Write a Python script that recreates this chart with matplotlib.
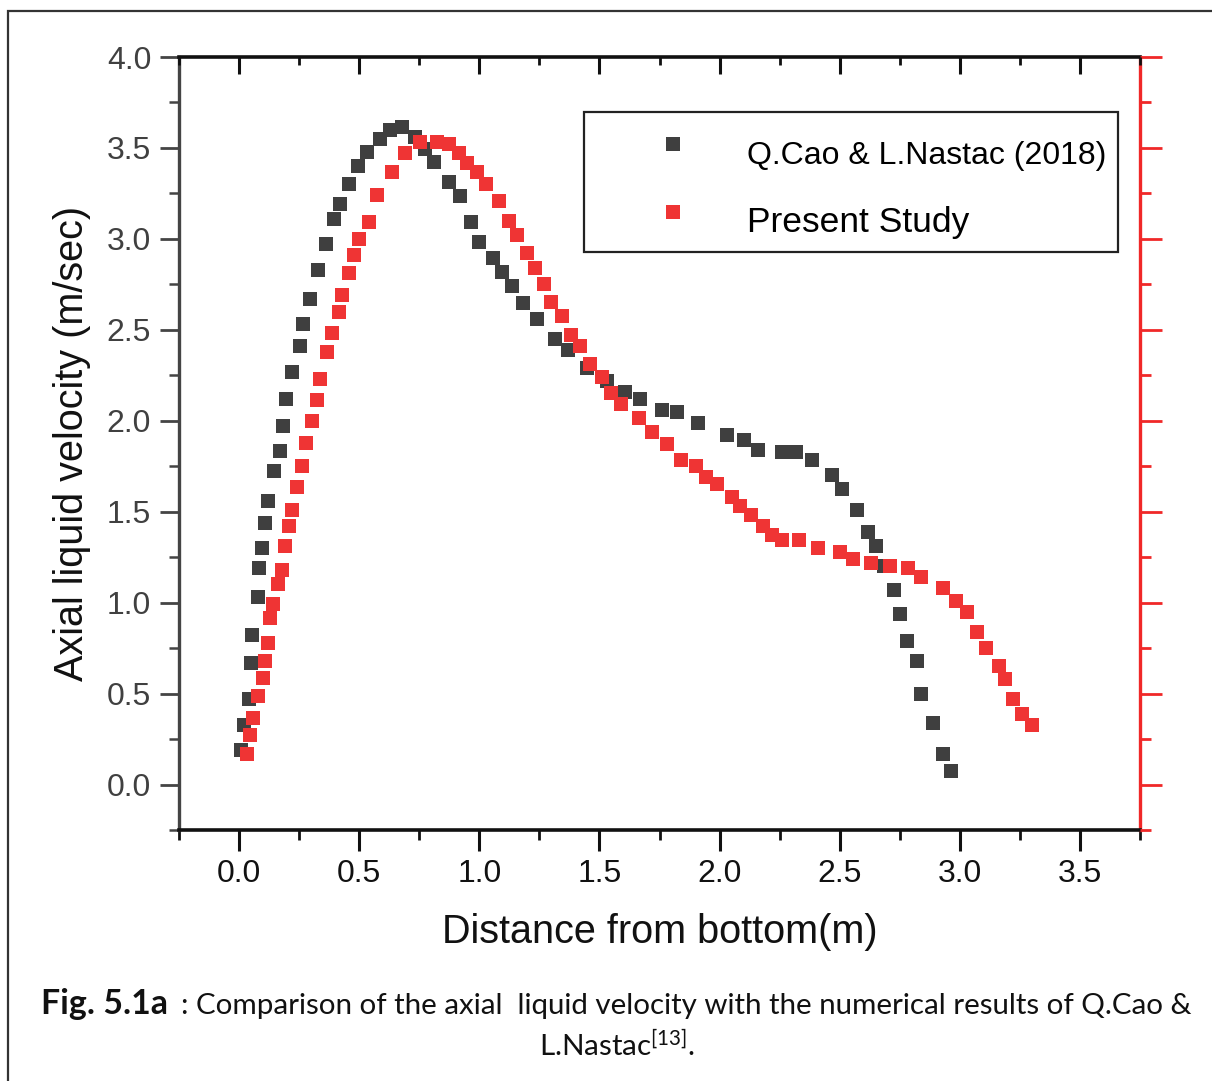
import matplotlib
matplotlib.use('Agg')
import matplotlib.pyplot as plt
from matplotlib.ticker import MultipleLocator, NullFormatter
from matplotlib.patches import Rectangle
from matplotlib.transforms import ScaledTranslation

# ---------------- data ----------------
cao_x = [0.010, 0.022, 0.042, 0.049, 0.055, 0.080, 0.083, 0.097, 0.108, 0.122,
         0.145, 0.169, 0.184, 0.197, 0.222, 0.254, 0.267, 0.295, 0.328, 0.360,
         0.395, 0.420, 0.457, 0.496, 0.533, 0.586, 0.630, 0.680, 0.734, 0.774,
         0.812, 0.873, 0.920, 0.967, 0.998, 1.055, 1.094, 1.136, 1.180, 1.240,
         1.316, 1.370, 1.450, 1.530, 1.607, 1.670, 1.760, 1.822, 1.910, 2.030,
         2.100, 2.160, 2.260, 2.320, 2.385, 2.470, 2.510, 2.570, 2.617, 2.650,
         2.685, 2.725, 2.750, 2.780, 2.820, 2.840, 2.890, 2.930, 2.965]
cao_y = [0.19, 0.33, 0.47, 0.67, 0.82, 1.03, 1.19, 1.30, 1.44, 1.56,
         1.725, 1.835, 1.97, 2.12, 2.27, 2.41, 2.53, 2.67, 2.83, 2.97,
         3.11, 3.19, 3.30, 3.40, 3.475, 3.55, 3.60, 3.615, 3.56, 3.495,
         3.42, 3.315, 3.235, 3.095, 2.985, 2.895, 2.82, 2.74, 2.645, 2.56,
         2.45, 2.39, 2.29, 2.22, 2.16, 2.12, 2.06, 2.05, 1.99, 1.92,
         1.895, 1.84, 1.83, 1.83, 1.785, 1.70, 1.625, 1.51, 1.39, 1.31,
         1.20, 1.07, 0.94, 0.79, 0.68, 0.495, 0.34, 0.17, 0.073]

present_x = [0.032, 0.044, 0.059, 0.079, 0.100, 0.108, 0.122, 0.128, 0.143, 0.160,
             0.177, 0.190, 0.208, 0.222, 0.243, 0.260, 0.280, 0.305, 0.325, 0.335,
             0.367, 0.388, 0.416, 0.427, 0.457, 0.478, 0.500, 0.540, 0.575, 0.635,
             0.690, 0.755, 0.825, 0.873, 0.914, 0.949, 0.990, 1.027, 1.080, 1.125,
             1.157, 1.200, 1.233, 1.270, 1.300, 1.344, 1.380, 1.420, 1.460, 1.510,
             1.550, 1.590, 1.665, 1.720, 1.780, 1.840, 1.900, 1.945, 1.990, 2.050,
             2.085, 2.130, 2.180, 2.220, 2.260, 2.330, 2.410, 2.500, 2.555, 2.630,
             2.710, 2.785, 2.840, 2.930, 2.985, 3.030, 3.070, 3.107, 3.163, 3.190,
             3.220, 3.260, 3.300]
present_y = [0.17, 0.27, 0.366, 0.485, 0.585, 0.68, 0.78, 0.915, 0.99, 1.10,
             1.18, 1.31, 1.42, 1.51, 1.635, 1.75, 1.88, 2.00, 2.115, 2.23,
             2.38, 2.48, 2.60, 2.69, 2.81, 2.91, 3.00, 3.095, 3.24, 3.37,
             3.47, 3.535, 3.53, 3.52, 3.47, 3.415, 3.37, 3.30, 3.21, 3.10,
             3.02, 2.92, 2.84, 2.75, 2.655, 2.575, 2.47, 2.41, 2.31, 2.24,
             2.15, 2.09, 2.015, 1.94, 1.875, 1.785, 1.75, 1.69, 1.65, 1.58,
             1.53, 1.48, 1.42, 1.37, 1.345, 1.345, 1.30, 1.28, 1.24, 1.22,
             1.20, 1.19, 1.14, 1.08, 1.007, 0.948, 0.84, 0.75, 0.654, 0.58,
             0.47, 0.39, 0.33]

x_ticks = [0.0, 0.5, 1.0, 1.5, 2.0, 2.5, 3.0, 3.5]
y_ticks = [0.0, 0.5, 1.0, 1.5, 2.0, 2.5, 3.0, 3.5, 4.0]
x_tick_labels = ["0.0", "0.5", "1.0", "1.5", "2.0", "2.5", "3.0", "3.5"]
y_tick_labels = ["0.0", "0.5", "1.0", "1.5", "2.0", "2.5", "3.0", "3.5", "4.0"]
legend_labels = ["Q.Cao & L.Nastac (2018)", "Present Study"]
x_label = "Distance from bottom(m)"
y_label = "Axial liquid velocity (m/sec)"
caption_bold = "Fig. 5.1a"
caption_rest = ": Comparison of the axial  liquid velocity with the numerical results of Q.Cao &"
caption_line2 = r"L.Nastac$^{\mathrm{[13]}}$."

# ---------------- style ----------------
plt.rcParams['font.family'] = ['Liberation Sans', 'DejaVu Sans']
plt.rcParams['mathtext.fontset'] = 'custom'
plt.rcParams['mathtext.rm'] = 'Lato'
plt.rcParams['mathtext.it'] = 'Lato:italic'
plt.rcParams['mathtext.bf'] = 'Lato:bold'

W, H = 1212, 1081
fig = plt.figure(figsize=(W / 100, H / 100), dpi=100)
fig.patch.set_facecolor('white')

BLACK = '#3f3f3f'
RED = '#ef3434'
AXRED = '#f02828'

ax = fig.add_axes([179 / W, 1 - 830 / H, (1140 - 179) / W, (830 - 57) / H])
ax.plot(cao_x, cao_y, 's', color=BLACK, ms=10.6, mew=0, label=legend_labels[0], zorder=3)
ax.plot(present_x, present_y, 's', color=RED, ms=10.6, mew=0, label=legend_labels[1], zorder=4)

ax.set_xlim(-0.25, 3.75)
ax.set_ylim(-0.25, 4.0)
ax.set_xticks(x_ticks)
ax.set_xticklabels(x_tick_labels)
ax.set_yticks(y_ticks)
ax.set_yticklabels(y_tick_labels)
ax.xaxis.set_minor_locator(MultipleLocator(0.25))
ax.yaxis.set_minor_locator(MultipleLocator(0.25))

ax.tick_params(axis='x', which='major', direction='out', length=15, width=2.2,
               color='#111111', labelsize=23, pad=6, labelcolor='#111111',
               top=False, bottom=True)
ax.tick_params(axis='x', which='minor', direction='out', length=7, width=2.0,
               color='#111111', top=False, bottom=True)
ax.tick_params(axis='y', which='major', direction='out', length=14, width=2.0,
               color='#444444', labelsize=23, pad=6, labelcolor='#404040',
               left=True, right=False)
ax.tick_params(axis='y', which='minor', direction='out', length=7, width=1.8,
               color='#444444', left=True, right=False)

ax.spines['left'].set_color('#444444')
ax.spines['left'].set_linewidth(2.4)
ax.spines['bottom'].set_color('#111111')
ax.spines['bottom'].set_linewidth(2.6)
ax.spines['top'].set_color('#111111')
ax.spines['top'].set_linewidth(2.6)
ax.spines['right'].set_color(AXRED)
ax.spines['right'].set_linewidth(2.4)

ax.set_xlabel(x_label, fontsize=28.5, color='#111111')
ax.xaxis.set_label_coords(0.5, (830 - 932) / 773)
ax.xaxis.label.set_va('center')
ax.set_ylabel(y_label, fontsize=28.5, color='#111111')
ax.yaxis.set_label_coords((72 - 179) / 961, 0.5)
ax.yaxis.label.set_va('center')

# right (red) axis
axr = ax.twinx()
axr.set_ylim(ax.get_ylim())
axr.set_yticks(y_ticks)
axr.yaxis.set_minor_locator(MultipleLocator(0.25))
axr.yaxis.set_major_formatter(NullFormatter())
axr.tick_params(axis='y', which='major', direction='out', length=16, width=2.0, color=AXRED)
axr.tick_params(axis='y', which='minor', direction='out', length=8, width=2.0, color=AXRED)
for s in axr.spines.values():
    s.set_visible(False)

# top axis (inward ticks)
axt = ax.twiny()
axt.set_xlim(ax.get_xlim())
axt.set_xticks(x_ticks)
axt.xaxis.set_minor_locator(MultipleLocator(0.25))
axt.xaxis.set_major_formatter(NullFormatter())
axt.tick_params(axis='x', which='major', direction='in', length=12, width=2.2, color='#111111')
axt.tick_params(axis='x', which='minor', direction='in', length=6, width=2.0, color='#111111')
for s in axt.spines.values():
    s.set_visible(False)

# legend
lx0, lx1, ly0, ly1 = (584 - 179) / 961, (1118 - 179) / 961, (830 - 250) / 773, (830 - 112) / 773
leg = ax.legend(loc='upper left', bbox_to_anchor=(lx0, ly0, lx1 - lx0, ly1 - ly0),
                mode='expand', borderaxespad=0, frameon=True, fancybox=False, framealpha=1,
                edgecolor='#222222', fontsize=24, borderpad=0.62, labelspacing=1.05,
                handlelength=4.12, handletextpad=0.15, numpoints=1)
leg.get_frame().set_linewidth(1.6)
leg.get_texts()[0].set_fontsize(23)
leg.get_texts()[1].set_fontsize(25.5)
leg.set_zorder(10)
shift = ScaledTranslation(0, -8 / 100, fig.dpi_scale_trans)
for t in leg.get_texts():
    t.set_transform(t.get_transform() + shift)

# outer frame of the figure image
fig.patches.append(Rectangle((8 / W, -0.05), 1.1, 1 - 11 / H + 0.05,
                             transform=fig.transFigure, fill=False,
                             edgecolor='#333333', linewidth=1.6, zorder=0))

# caption
fig.canvas.draw()
rend = fig.canvas.get_renderer()
y1 = 1 - 1014 / H
tb = fig.text(41 / W, y1, caption_bold, family=['Lato', 'DejaVu Sans'],
              fontweight='bold', fontsize=20, va='baseline', ha='left', color='#111111')
wb = tb.get_window_extent(rend).width
tb.set_fontsize(20 * 127 / wb)
tr = fig.text(181 / W, y1, caption_rest, family=['Lato', 'DejaVu Sans'],
              fontsize=16, va='baseline', ha='left', color='#111111')
wr = tr.get_window_extent(rend).width
fs_rest = 16 * (1195 - 181) / wr
tr.set_fontsize(fs_rest)
fig.text(617 / W, 1 - 1056 / H, caption_line2, family=['Lato', 'DejaVu Sans'],
         fontsize=fs_rest, va='baseline', ha='center', color='#111111')

fig.savefig('out.png', dpi=100, facecolor='white')
